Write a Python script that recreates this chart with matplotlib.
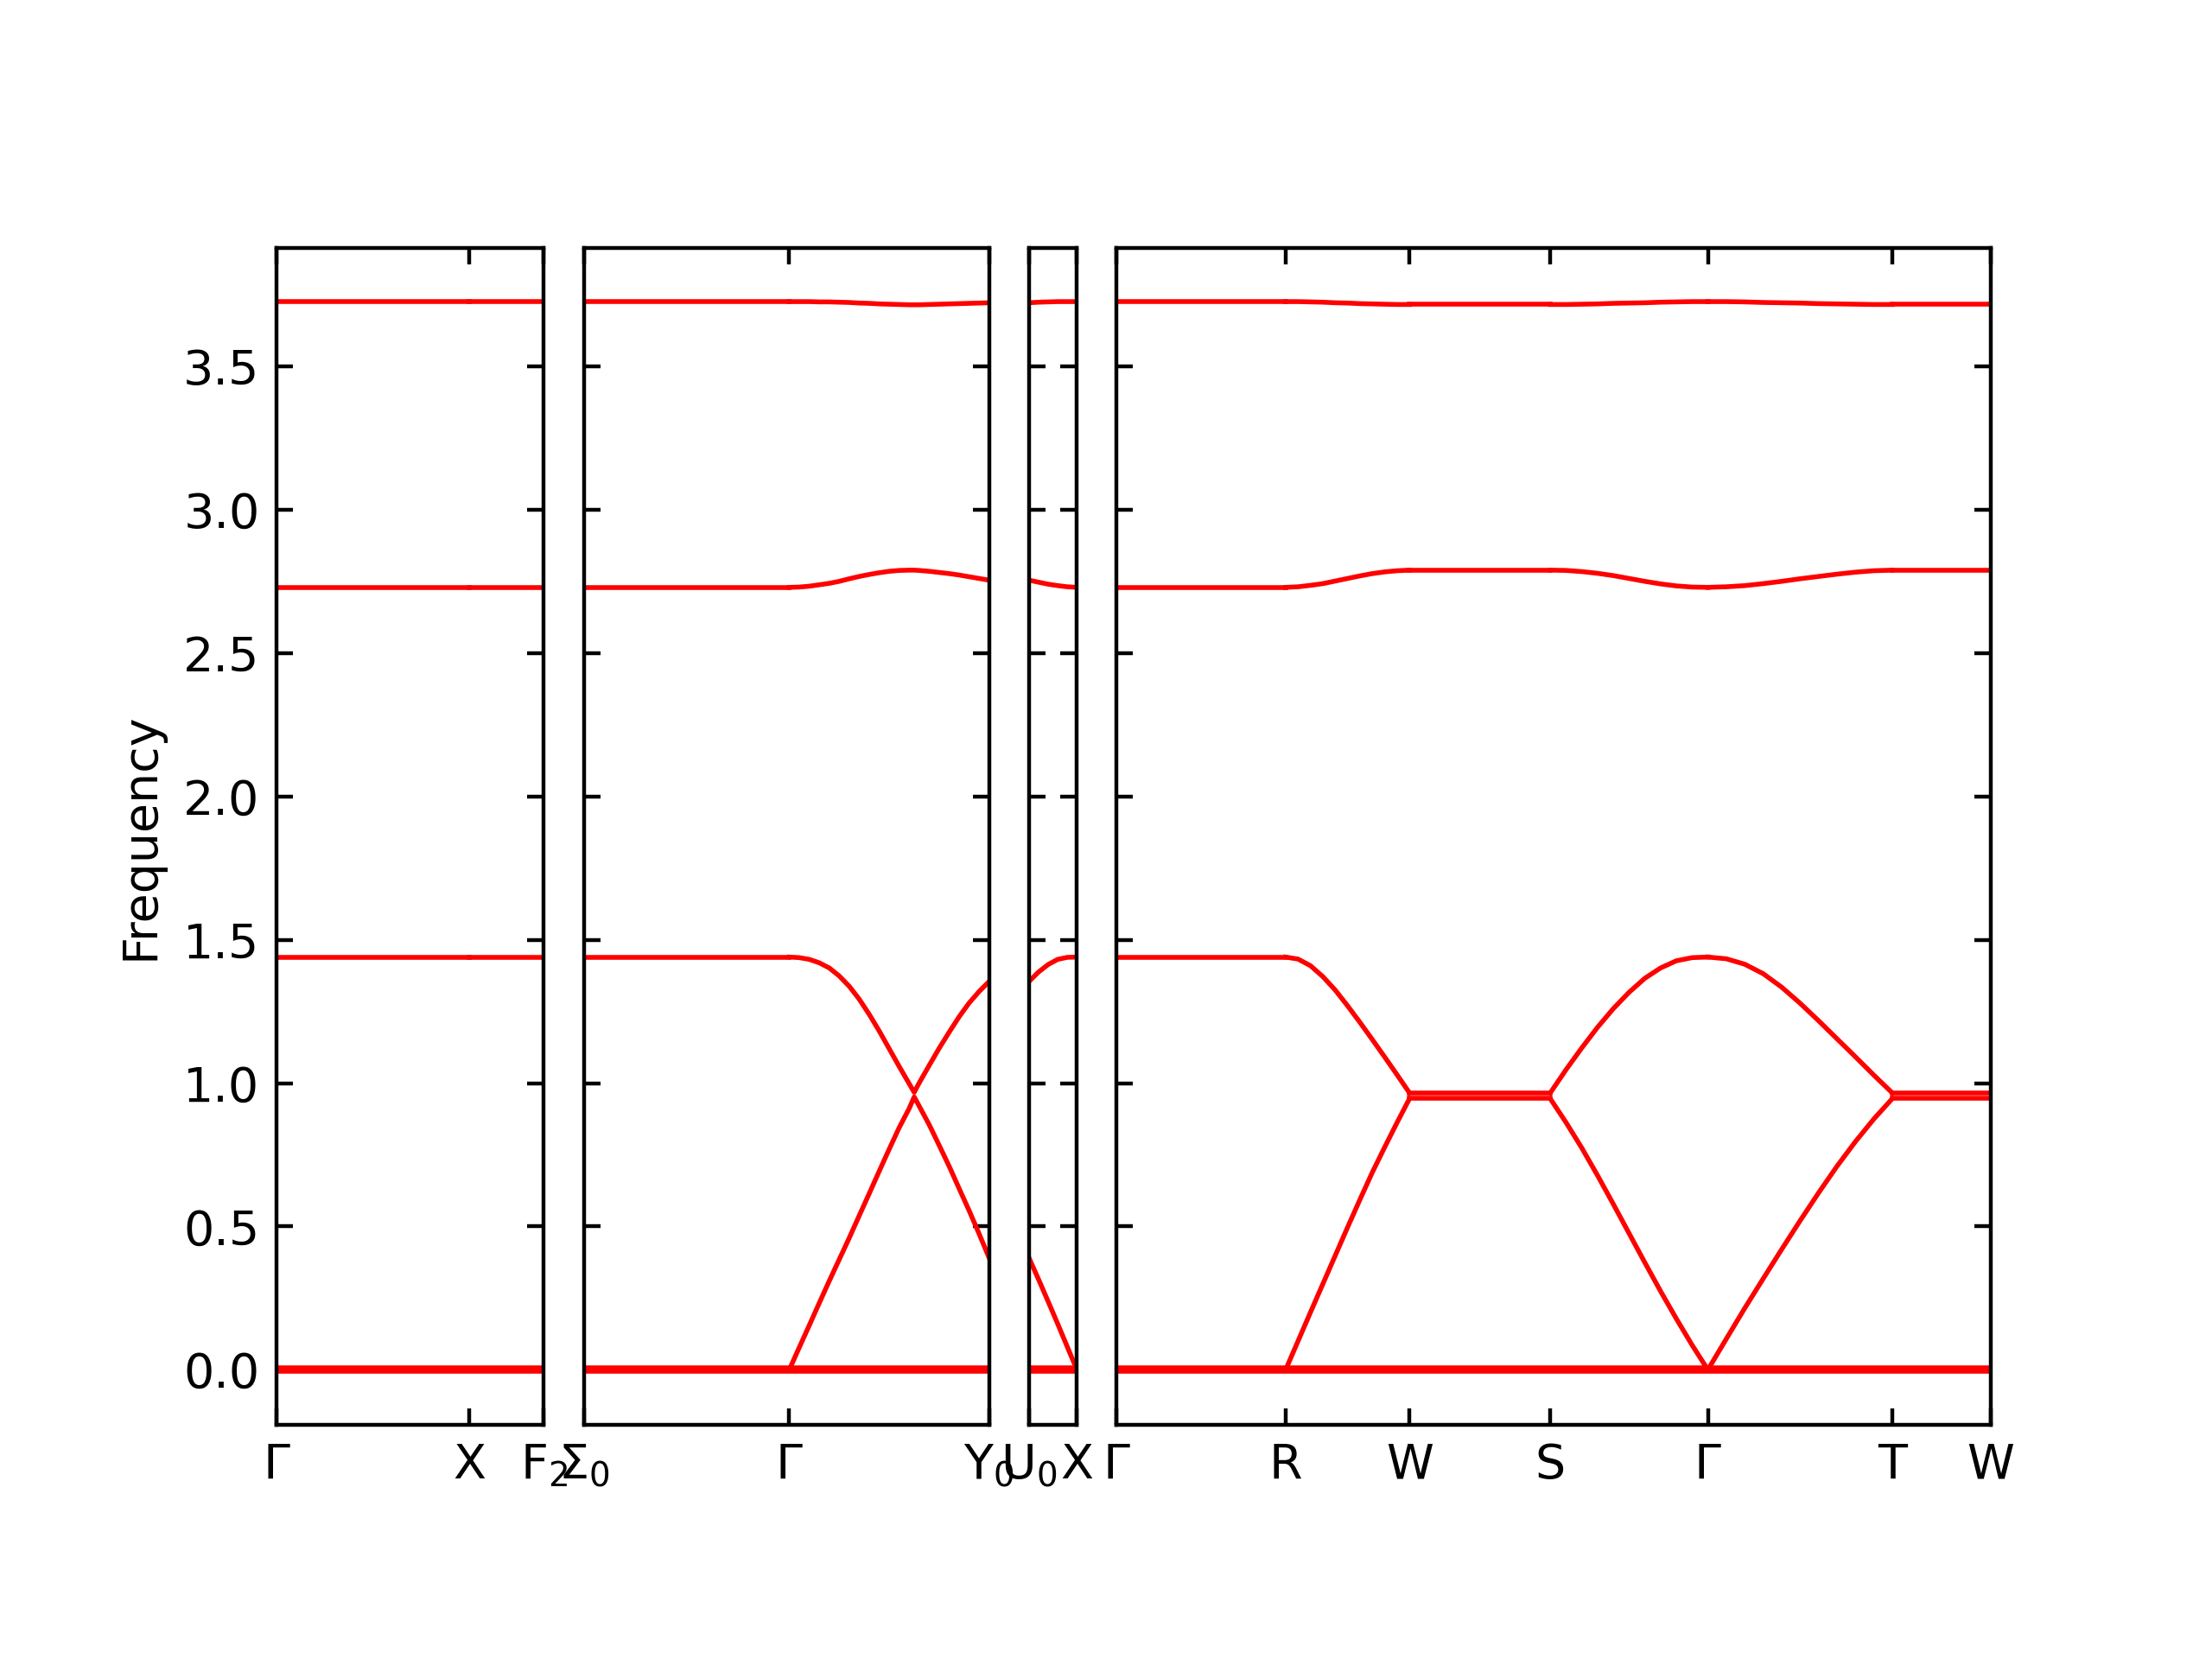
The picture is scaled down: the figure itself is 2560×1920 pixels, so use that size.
import numpy as np
import matplotlib.pyplot as plt

# panels of the band path: segment lengths (q distance) and point labels
panel_seg_len = [[1.37, 0.53], [1.46, 1.42], [0.34], [1.20, 0.88, 1.00, 1.12, 1.31, 0.70]]
panel_labels = [[r'$\Gamma$', 'X', r'F$_2$'],
                [r'$\Sigma_0$', r'$\Gamma$', r'Y$_0$'],
                [r'U$_0$', 'X'],
                [r'$\Gamma$', 'R', 'W', 'S', r'$\Gamma$', 'T', 'W']]

# near-zero bands (flat everywhere)
zero_bands = [0.006, -0.006]

# flat stretches: [lower, 1.44 band, 2.73 band, 3.72 band]
flat_t = [0.0, 1.0]
gamma_lvls = [0.0, 1.44, 2.73, 3.727]
wzone_lvls = [0.946, 0.966, 2.79, 3.717]

# Gamma - Y0
gy_t = [0.0, 0.05, 0.1, 0.15, 0.2, 0.25, 0.3, 0.35, 0.4, 0.45, 0.5, 0.55, 0.6, 0.625,
        0.65, 0.7, 0.75, 0.8, 0.85, 0.9, 0.95, 1.0]
gy_low = [0.0, 0.078, 0.155, 0.233, 0.31, 0.385, 0.46, 0.538, 0.615, 0.693, 0.77, 0.845,
          0.912, 0.952, 0.92, 0.855, 0.783, 0.71, 0.632, 0.555, 0.474, 0.39]
gy_mid = [1.44, 1.438, 1.432, 1.42, 1.402, 1.374, 1.338, 1.293, 1.24, 1.182, 1.12, 1.058,
          0.998, 0.968, 1.001, 1.062, 1.122, 1.178, 1.232, 1.28, 1.32, 1.355]
gy_b6 = [2.73, 2.731, 2.734, 2.739, 2.744, 2.751, 2.76, 2.768, 2.775, 2.781, 2.786, 2.789,
         2.79, 2.79, 2.789, 2.786, 2.782, 2.778, 2.773, 2.767, 2.761, 2.755]
gy_b7 = [3.727, 3.727, 3.727, 3.726, 3.726, 3.725, 3.724, 3.722, 3.721, 3.719, 3.718, 3.717,
         3.716, 3.716, 3.716, 3.717, 3.718, 3.719, 3.72, 3.721, 3.722, 3.723]

# U0 - X
ux_t = [0.0, 0.2, 0.4, 0.6, 0.8, 1.0]
ux_low = [0.39, 0.315, 0.238, 0.16, 0.08, 0.0]
ux_mid = [1.355, 1.388, 1.414, 1.432, 1.439, 1.44]
ux_b6 = [2.755, 2.748, 2.741, 2.736, 2.732, 2.73]
ux_b7 = [3.723, 3.725, 3.726, 3.727, 3.727, 3.727]

grid_t = [0.0, 0.1, 0.2, 0.3, 0.4, 0.5, 0.6, 0.7, 0.8, 0.9, 1.0]

# R - W
rw_low = [0.0, 0.1, 0.2, 0.299, 0.398, 0.497, 0.594, 0.689, 0.777, 0.863, 0.946]
rw_mid = [1.44, 1.433, 1.41, 1.372, 1.325, 1.27, 1.212, 1.152, 1.091, 1.029, 0.966]
rw_b6 = [2.73, 2.732, 2.737, 2.743, 2.752, 2.761, 2.77, 2.778, 2.784, 2.788, 2.79]
rw_b7 = [3.727, 3.727, 3.726, 3.725, 3.723, 3.722, 3.72, 3.719, 3.718, 3.717, 3.717]

# S - Gamma
sg_low = [0.946, 0.863, 0.774, 0.678, 0.578, 0.476, 0.374, 0.274, 0.178, 0.086, 0.0]
sg_mid = [0.966, 1.047, 1.123, 1.195, 1.26, 1.317, 1.366, 1.402, 1.427, 1.438, 1.44]
sg_b6 = [2.79, 2.789, 2.785, 2.779, 2.771, 2.761, 2.751, 2.742, 2.735, 2.731, 2.73]
sg_b7 = [3.717, 3.717, 3.718, 3.719, 3.721, 3.722, 3.723, 3.725, 3.726, 3.727, 3.727]

# Gamma - T
gt_low = [0.0, 0.108, 0.215, 0.318, 0.42, 0.52, 0.617, 0.71, 0.796, 0.875, 0.946]
gt_mid = [1.44, 1.434, 1.415, 1.382, 1.335, 1.279, 1.218, 1.155, 1.092, 1.028, 0.966]
gt_b6 = [2.73, 2.732, 2.736, 2.743, 2.751, 2.76, 2.768, 2.776, 2.783, 2.788, 2.79]
gt_b7 = [3.727, 3.727, 3.726, 3.724, 3.723, 3.722, 3.72, 3.719, 3.718, 3.717, 3.717]


def flat(lvls):
    return flat_t, [[v, v] for v in lvls]


panel_segs = [
    [flat(gamma_lvls), flat(gamma_lvls)],
    [flat(gamma_lvls), (gy_t, [gy_low, gy_mid, gy_b6, gy_b7])],
    [(ux_t, [ux_low, ux_mid, ux_b6, ux_b7])],
    [flat(gamma_lvls),
     (grid_t, [rw_low, rw_mid, rw_b6, rw_b7]),
     flat(wzone_lvls),
     (grid_t, [sg_low, sg_mid, sg_b6, sg_b7]),
     (grid_t, [gt_low, gt_mid, gt_b6, gt_b7]),
     flat(wzone_lvls)],
]

fig = plt.figure(figsize=(6.4, 4.8), dpi=400)
widths = [sum(l) for l in panel_seg_len]
gs = fig.add_gridspec(1, 4, width_ratios=widths, left=0.125, right=0.9,
                      bottom=0.141, top=0.8505, wspace=0.1)

for i in range(4):
    ax = fig.add_subplot(gs[0, i])
    x0 = 0.0
    ticks = [0.0]
    for seg_len, (t, bands) in zip(panel_seg_len[i], panel_segs[i]):
        x = x0 + seg_len * np.array(t)
        for b in bands:
            ax.plot(x, b, color='r', lw=1.0)
        x0 += seg_len
        ticks.append(x0)
    for z in zero_bands:
        ax.plot([0, x0], [z, z], color='r', lw=1.0)
    ax.set_xlim(0, x0)
    ax.set_ylim(-0.193, 3.914)
    ax.set_xticks(ticks)
    ax.set_xticklabels(panel_labels[i])
    ax.set_yticks([0.0, 0.5, 1.0, 1.5, 2.0, 2.5, 3.0, 3.5])
    ax.tick_params(direction='in', top=True, right=True, left=True, bottom=True)
    if i == 0:
        ax.set_ylabel('Frequency')
    else:
        ax.tick_params(labelleft=False)

fig.savefig('out.png', dpi=400)
